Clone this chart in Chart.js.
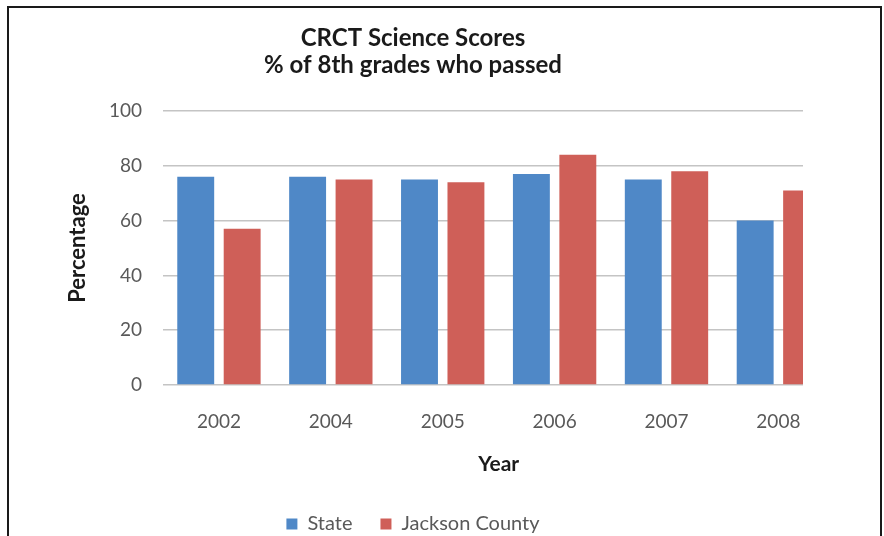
<!DOCTYPE html>
<html>
<head>
<meta charset="utf-8">
<script src="https://cdn.jsdelivr.net/npm/chart.js@4/dist/chart.umd.min.js"></script>
<style>
  html, body { margin: 0; padding: 0; background: #fff; width: 884px; height: 536px; overflow: hidden; }
  #frame { position: absolute; left: 7px; top: 6px; width: 875px; height: 560px; border: 2px solid #1a1a1a; box-sizing: border-box; }
  #wrap { position: absolute; left: 23px; top: 8px; width: 798px; height: 536px; }
</style>
</head>
<body>
<div id="frame"></div>
<div id="wrap"><canvas id="c" width="798" height="536"></canvas></div>
<script>
const titleLines = ['CRCT Science Scores', '% of 8th grades who passed'];
const years = ['2002', '2004', '2005', '2006', '2007', '2008'];
const stateValues = [76, 76, 75, 77, 75, 60];
const jacksonValues = [57, 75, 74, 84, 78, 71];
const yTicks = [0, 20, 40, 60, 80, 100];
const seriesNames = ['State', 'Jackson County'];
const xAxisTitle = 'Year';
const yAxisTitle = 'Percentage';

const FONT = 'Lato, "Open Sans", sans-serif';
const toPoints = vals => vals.map((v, i) => ({ x: i, y: v }));

// Draws the x-axis title centred on the full category range (the plot is cropped on the right).
const xTitlePlugin = {
  id: 'xTitle',
  afterDraw(chart) {
    const x = chart.scales.x;
    const ctx = chart.ctx;
    ctx.save();
    ctx.font = `bold 21px ${FONT}`;
    ctx.fillStyle = '#1a1a1a';
    ctx.textAlign = 'center';
    ctx.textBaseline = 'middle';
    ctx.fillText(xAxisTitle, x.getPixelForValue((years.length - 1) / 2), chart.chartArea.bottom + 79);
    ctx.restore();
  }
};

const chart = new Chart(document.getElementById('c'), {
  type: 'bar',
  data: {
    datasets: [
      { label: seriesNames[0], data: toPoints(stateValues), backgroundColor: '#4F88C7', borderWidth: 0,
        categoryPercentage: 0.83, barPercentage: 0.795 },
      { label: seriesNames[1], data: toPoints(jacksonValues), backgroundColor: '#CF5F58', borderWidth: 0,
        categoryPercentage: 0.83, barPercentage: 0.795 }
    ]
  },
  plugins: [xTitlePlugin],
  options: {
    responsive: false,
    animation: false,
    layout: { padding: { left: 0, right: 18, top: 0, bottom: 0 } },
    plugins: {
      title: {
        display: true,
        text: titleLines,
        color: '#1a1a1a',
        font: { family: FONT, size: 24, weight: 'bold', lineHeight: 1.13 },
        padding: { top: 16.5, bottom: 32.3 }
      },
      legend: {
        position: 'bottom',
        labels: {
          boxWidth: 11, boxHeight: 11,
          color: '#595959',
          font: { family: FONT, size: 20 },
          padding: 28
        }
      },
      tooltip: { enabled: false }
    },
    scales: {
      x: {
        type: 'linear',
        offset: false,
        min: -0.5,
        max: 5.22,
        grid: { display: false, drawTicks: false },
        border: { display: false },
        ticks: {
          stepSize: 1,
          includeBounds: false,
          autoSkip: false,
          maxRotation: 0,
          padding: 25,
          color: '#595959',
          font: { family: FONT, size: 19 },
          callback: v => (Number.isInteger(v) && years[v] !== undefined) ? years[v] : ''
        },
        title: { display: false },
        afterFit: s => { s.height = 101; s.paddingLeft = 0; s.paddingRight = 0; }
      },
      y: {
        min: 0, max: 100,
        grid: { color: '#c4c4c4', lineWidth: 1.5, drawTicks: false },
        border: { display: false },
        ticks: {
          stepSize: 20,
          padding: 21,
          color: '#595959',
          font: { family: FONT, size: 19 },
          callback: v => yTicks.includes(v) ? String(v) : ''
        },
        title: {
          display: true, text: yAxisTitle, color: '#1a1a1a',
          font: { family: FONT, size: 22, weight: 'bold' },
          padding: { top: 42, bottom: 0 }
        },
        afterFit: s => { s.width = 140; }
      }
    }
  }
});
</script>
</body>
</html>
